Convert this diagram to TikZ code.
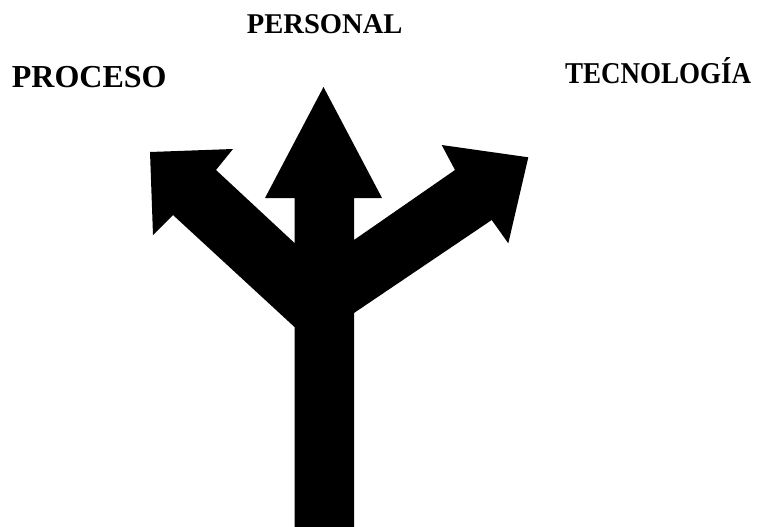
\documentclass[tikz,border=0pt]{standalone}
\usepackage{fontspec}
\setmainfont{Liberation Serif}
\tikzset{
  lbl/.style={font=\bfseries\fontsize{#1}{#1}\selectfont, inner sep=0pt},
  fork/.style={fill=black, draw=none}
}
\begin{document}
\begin{tikzpicture}[x=1pt, y=-1pt]
\useasboundingbox (0,0) rectangle (784,527);
% labels
\node[lbl=28.6, anchor=base] (personal) at (324.7,33.3) {PERSONAL};
\node[lbl=32, anchor=base west] (proceso) at (11.7,87.5) {PROCESO};
\node[lbl=27, anchor=base west] (tecno) at (565,83.3) {\scalebox{1}[1.12]{TECNOLOGÍA}};
% three-way arrow
\fill[fork] (294.5,527) -- (294.5,327) -- (173,215) -- (153,235) -- (150,152)
  -- (233,149) -- (216,170) -- (294.5,243) -- (294.5,198) -- (265,198)
  -- (323.5,87) -- (382,198) -- (354,198) -- (354,240) -- (455,170)
  -- (441.7,145) -- (528.3,157.3) -- (508.3,243.3) -- (491.7,220)
  -- (354,313) -- (354,527) -- cycle;
\end{tikzpicture}
\end{document}
